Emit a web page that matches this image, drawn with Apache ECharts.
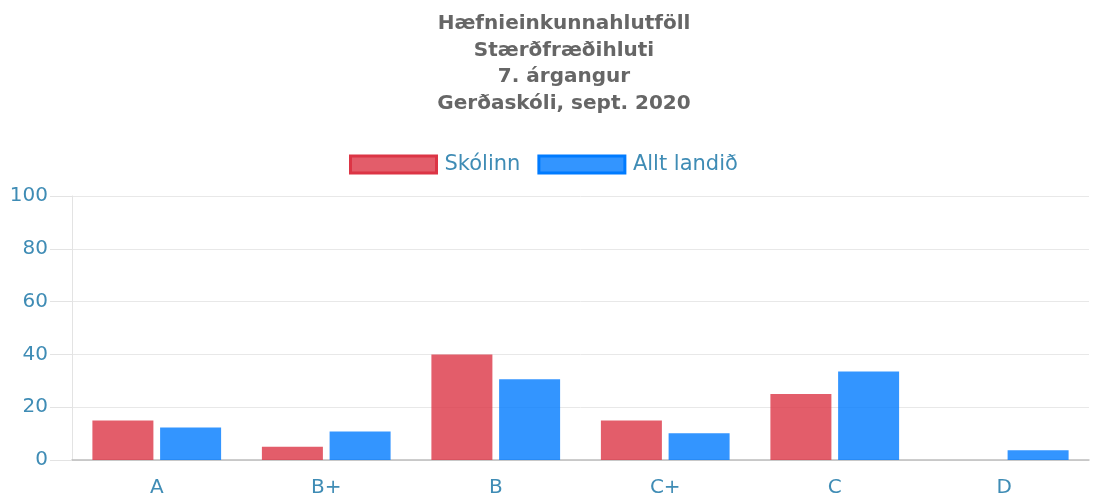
<!DOCTYPE html>
<html>
<head>
<meta charset="utf-8">
<script src="https://cdn.jsdelivr.net/npm/echarts@6/dist/echarts.min.js"></script>
<style>
html,body{margin:0;padding:0;background:#fff;}
#c{width:1102px;height:502px;}
</style>
</head>
<body>
<div id="c"></div>
<script>
const titleLines = ['Hæfnieinkunnahlutföll', 'Stærðfræðihluti', '7. árgangur', 'Gerðaskóli, sept. 2020'];
const categories = ['A', 'B+', 'B', 'C+', 'C', 'D'];
const seriesNames = ['Skólinn', 'Allt landið'];
const schoolValues = [15, 5, 40, 15, 25, 0];
const nationalValues = [12.3, 10.8, 30.6, 10.1, 33.5, 3.7];
const yTicks = { min: 0, max: 100, interval: 20 };

const labelColor = '#3f8cb5';
const fontFam = '"DejaVu Sans", "Liberation Sans", sans-serif';

const chart = echarts.init(document.getElementById('c'));
chart.setOption({
  animation: false,
  backgroundColor: '#fff',
  title: {
    text: titleLines.join('\n'),
    left: 559,
    textAlign: 'center',
    top: 6,
    textStyle: {
      fontFamily: fontFam,
      fontSize: 20,
      fontWeight: 'bold',
      color: '#666',
      lineHeight: 26.5
    }
  },
  legend: {
    left: 344,
    top: 149,
    itemWidth: 86,
    itemHeight: 17,
    itemGap: 17,
    textStyle: { fontFamily: fontFam, fontSize: 21, color: labelColor, padding: [0, 0, 0, 3] },
    data: [
      { name: seriesNames[0], icon: 'rect', itemStyle: { color: 'rgba(220,53,69,0.8)', borderColor: '#dc3545', borderWidth: 3 } },
      { name: seriesNames[1], icon: 'rect', itemStyle: { color: 'rgba(0,123,255,0.8)', borderColor: '#007bff', borderWidth: 3 } }
    ]
  },
  grid: { left: 72, right: 13, top: 196, bottom: 42, containLabel: false },
  xAxis: {
    type: 'category',
    data: categories,
    axisLine: { show: true, lineStyle: { color: '#bdbdbd', width: 1.5 } },
    axisTick: { show: false },
    axisLabel: { fontFamily: fontFam, fontSize: 20, color: labelColor, margin: 18 },
    splitLine: { show: false }
  },
  yAxis: {
    type: 'value',
    min: yTicks.min,
    max: yTicks.max,
    interval: yTicks.interval,
    axisLine: { show: true, lineStyle: { color: '#e3e3e3' } },
    axisTick: { show: true, length: 22, lineStyle: { color: '#e3e3e3' } },
    axisLabel: { fontFamily: fontFam, fontSize: 20, color: labelColor, margin: 24 },
    splitLine: { show: true, lineStyle: { color: '#e8e8e8' } }
  },
  series: [
    {
      name: seriesNames[0],
      type: 'bar',
      data: schoolValues,
      barWidth: 61,
      barGap: '11%',
      itemStyle: { color: 'rgba(220,53,69,0.8)' }
    },
    {
      name: seriesNames[1],
      type: 'bar',
      data: nationalValues,
      barWidth: 61,
      barGap: '11%',
      itemStyle: { color: 'rgba(0,123,255,0.8)' }
    }
  ]
});
</script>
</body>
</html>
